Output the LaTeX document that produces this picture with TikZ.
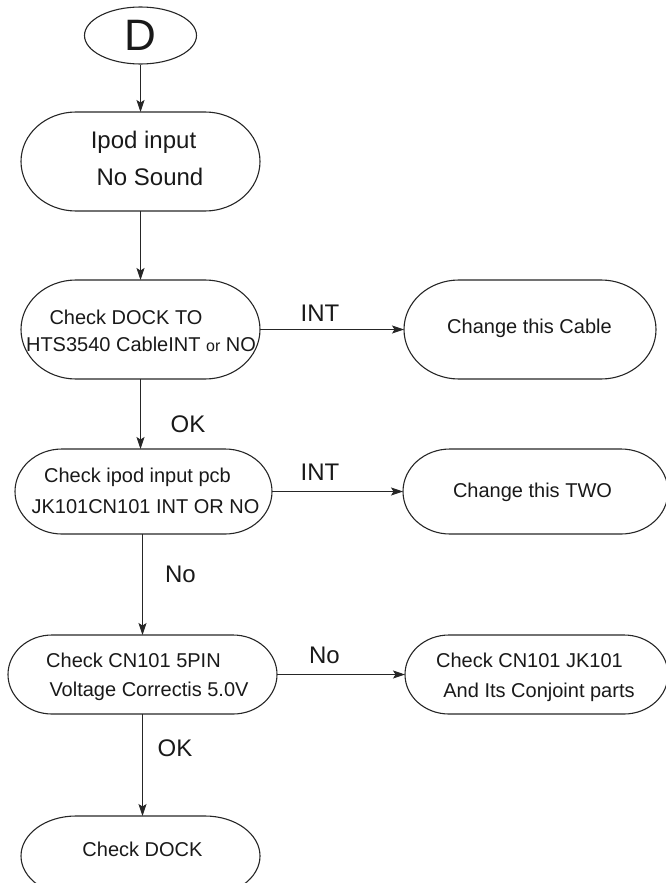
\documentclass[tikz,border=0pt]{standalone}
\usepackage{fontspec}
\setmainfont{Liberation Sans}
\usetikzlibrary{shapes.geometric,arrows.meta,calc}
\tikzset{
 boxline/.style={line width=1.1pt, draw=black!85},
 boxnode/.style={rectangle, draw=none, inner sep=0pt, outer sep=0pt},
 conn/.style={line width=1.1pt, draw=black!85, -{Stealth[length=12pt,width=8pt,inset=2.5pt]}},
 bt/.style={anchor=base, inner sep=0pt, font=\fontsize{20}{24}\selectfont, text=black!90},
 lbl/.style={anchor=base, inner sep=0pt, font=\fontsize{24}{28}\selectfont, text=black!90},
}
\newcommand\stadium[2]{%
 \draw[boxline] let \p1=(#1.north west), \p2=(#1.south east), \n1={(\y1-\y2)/2} in
   (\x1+#2pt,\y1) -- (\x2-#2pt,\y1)
   arc[start angle=90,end angle=-90,x radius=#2pt,y radius=\n1]
   -- (\x1+#2pt,\y2)
   arc[start angle=270,end angle=90,x radius=#2pt,y radius=\n1] -- cycle;}
\begin{document}
\begin{tikzpicture}[x=1pt,y=-1pt]
\clip (0,0) rectangle (666,883);
% start
\node[ellipse, boxline, draw, minimum width=112pt, minimum height=57pt, inner sep=0pt,
      font=\fontsize{44}{50}\selectfont, text=black!90] (D) at (140.5,35.5) {D};
% boxes
\node[boxnode, minimum width=239pt, minimum height=99pt] (b1) at (140.5,161.5) {};
\node[boxnode, minimum width=239pt, minimum height=99pt] (b2) at (140.5,329.5) {};
\node[boxnode, minimum width=257pt, minimum height=85pt] (b3) at (143.5,491.5) {};
\node[boxnode, minimum width=269pt, minimum height=79pt] (b4) at (142.5,674.5) {};
\node[boxnode, minimum width=239pt, minimum height=80pt] (b5) at (140.5,856) {};
\node[boxnode, minimum width=252pt, minimum height=99pt] (r2) at (530,329.5) {};
\node[boxnode, minimum width=265pt, minimum height=85pt] (r3) at (535.5,491.5) {};
\node[boxnode, minimum width=263pt, minimum height=79pt] (r4) at (536.5,674.5) {};
\stadium{b1}{55}
\stadium{b2}{55}
\stadium{b3}{47}
\stadium{b4}{44}
\stadium{b5}{55}
\stadium{r2}{55}
\stadium{r3}{47}
\stadium{r4}{44}
% texts
\node[lbl] (t1a) at (143.5,148.3) {Ipod input};
\node[lbl] (t1b) at (150,185) {No Sound};
\node[bt] (t2a) at (126,324) {Check DOCK TO};
\node[bt] (t2b) at (141,351.7) {HTS3540 CableINT {\fontsize{16}{18}\selectfont or} NO};
\node[bt] (tr2) at (529.5,333.3) {Change this Cable};
\node[bt] (t3a) at (137.5,482) {Check ipod input pcb};
\node[bt] (t3b) at (145.5,513.3) {JK101CN101 INT OR NO};
\node[bt] (tr3) at (532.5,497.7) {Change this TWO};
\node[bt] (t4a) at (133.5,667.3) {Check CN101 5PIN};
\node[bt] (t4b) at (149,696.7) {Voltage Correctis 5.0V};
\node[bt] (tr4a) at (529.5,667.7) {Check CN101 JK101};
\node[bt] (tr4b) at (539,697.7) {And Its Conjoint parts};
\node[bt] (t5) at (142.5,856.7) {Check DOCK};
% connector labels
\node[lbl] (l1) at (320,321.7) {INT};
\node[lbl] (l2) at (188,432) {OK};
\node[lbl] (l3) at (320,480) {INT};
\node[lbl] (l4) at (180.5,582.7) {No};
\node[lbl] (l5) at (324.5,663.3) {No};
\node[lbl] (l6) at (175,756) {OK};
% connectors
\draw[conn] (D.south) -- (b1.north);
\draw[conn] (b1.south) -- (b2.north);
\draw[conn] (b2.south) -- (b2.south |- b3.north);
\draw[conn] (b4.north |- b3.south) -- (b4.north);
\draw[conn] (b4.south) -- (b4.south |- b5.north);
\draw[conn] (b2.east) -- (r2.west);
\draw[conn] (b3.east) -- (r3.west);
\draw[conn] (b4.east) -- (r4.west);
\end{tikzpicture}
\end{document}
